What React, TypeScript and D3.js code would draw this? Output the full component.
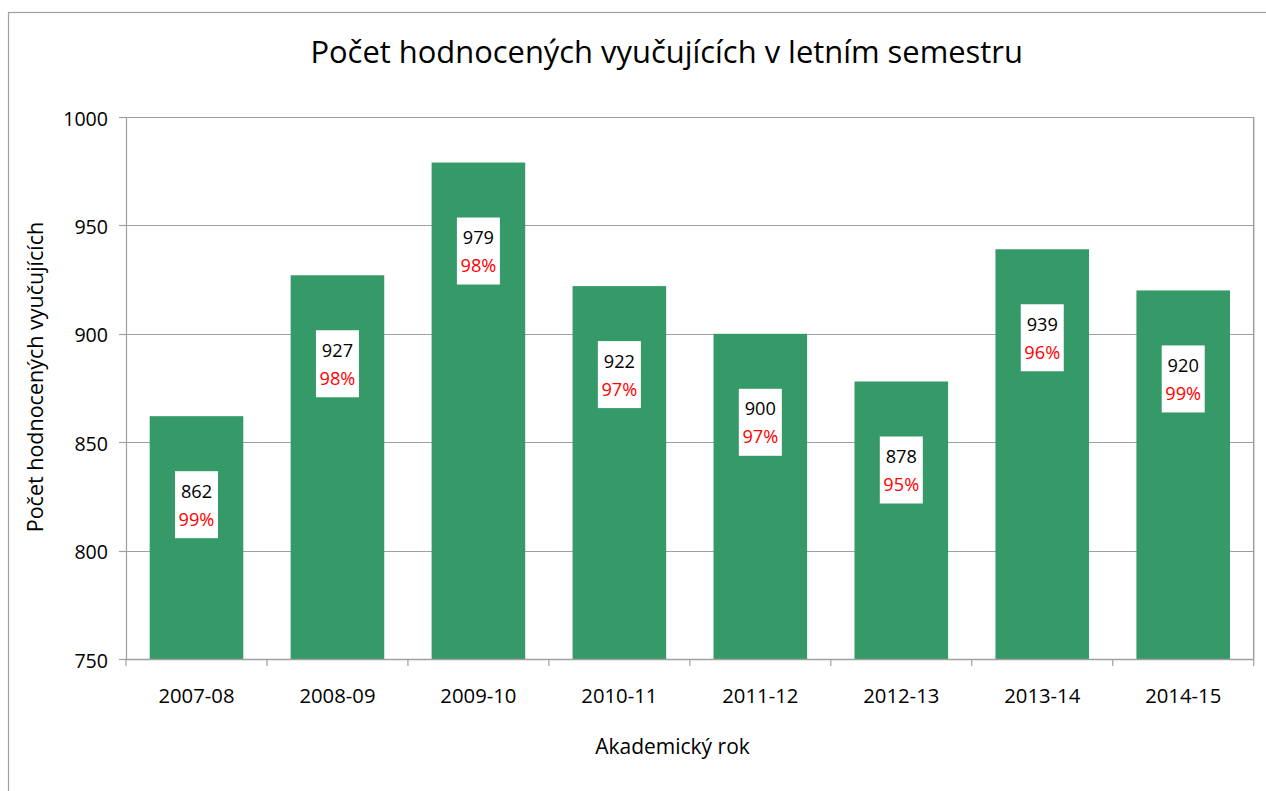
import React from "react";
import * as d3 from "d3";

const categories = ["2007-08", "2008-09", "2009-10", "2010-11", "2011-12", "2012-13", "2013-14", "2014-15"];
const counts = [862, 927, 979, 922, 900, 878, 939, 920];
const percents = ["99%", "98%", "98%", "97%", "97%", "95%", "96%", "99%"];
const yTicks = [750, 800, 850, 900, 950, 1000];

const W = 1266;
const H = 791;
const FONT = "'Open Sans', 'Noto Sans', sans-serif";

export default function App() {
  const left = 126, right = 1253.7, top = 117, bottom = 659;
  const x = d3.scaleBand<string>().domain(categories).range([left, right]).padding(0);
  const y = d3.scaleLinear().domain([750, 1000]).range([bottom, top]);
  const barW = x.bandwidth() * 0.664;
  const grid = "#a0a0a0";
  const boundaries = d3.range(categories.length + 1).map((i) => left + i * x.step());

  return (
    <svg width={W} height={H} style={{ position: "absolute", left: 0, top: 0 }} fontFamily={FONT}>
      <rect x={0} y={0} width={W} height={H} fill="#ffffff" />
      <rect x={8.5} y={12.5} width={W + 20} height={H + 20} fill="none" stroke="#a0a0a0" strokeWidth={1.2} />
      <text x={666.7} y={63.3} textAnchor="middle" fontSize={30.9} fill="#000">
        Počet hodnocených vyučujících v letním semestru
      </text>
      {yTicks.map((t) => (
        <g key={t}>
          <line x1={left} x2={right} y1={Math.round(y(t)) + 0.5} y2={Math.round(y(t)) + 0.5} stroke={grid} strokeWidth={1.2} />
          <line x1={119} x2={left} y1={Math.round(y(t)) + 0.5} y2={Math.round(y(t)) + 0.5} stroke={grid} strokeWidth={1.2} />
          <text x={108} y={y(t) + 8.5} textAnchor="end" fontSize={19.6} fill="#000">{t}</text>
        </g>
      ))}
      <line x1={right} x2={right} y1={top} y2={bottom} stroke={grid} strokeWidth={1.5} />
      {categories.map((c, i) => {
        const cx = (x(c) as number) + x.bandwidth() / 2;
        const yv = y(counts[i]);
        const boxTop = yv + 55;
        return (
          <g key={c}>
            <rect x={cx - barW / 2} y={yv} width={barW} height={bottom - yv} fill="#359a67" />
            <rect x={cx - 21.5} y={boxTop} width={43} height={67} fill="#ffffff" />
            <text x={cx} y={boxTop + 26.5} textAnchor="middle" fontSize={18.2} fill="#000">{counts[i]}</text>
            <text x={cx} y={boxTop + 54.5} textAnchor="middle" fontSize={18.2} fill="#ff0000">{percents[i]}</text>
            <text x={cx} y={703} textAnchor="middle" fontSize={20.3} fill="#000">{c}</text>
          </g>
        );
      })}
      <line x1={left + 0.5} x2={left + 0.5} y1={top} y2={bottom} stroke={grid} strokeWidth={1.2} />
      <line x1={left} x2={right} y1={bottom + 0.5} y2={bottom + 0.5} stroke={grid} strokeWidth={1.5} />
      {boundaries.map((b, i) => (
        <line key={i} x1={b} x2={b} y1={bottom} y2={bottom + 7} stroke={grid} strokeWidth={1.2} />
      ))}
      <text x={672.5} y={754} textAnchor="middle" fontSize={21} fill="#000">Akademický rok</text>
      <text transform={`translate(43.3,377) rotate(-90)`} textAnchor="middle" fontSize={21.5} fill="#000">
        Počet hodnocených vyučujících
      </text>
    </svg>
  );
}
